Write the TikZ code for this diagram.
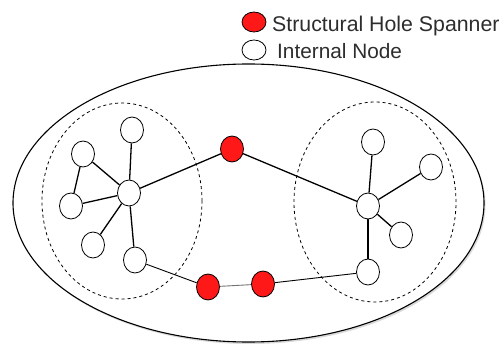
\documentclass[tikz,border=0pt]{standalone}
\usepackage{fontspec}
\setmainfont{Liberation Sans}
\usetikzlibrary{shapes.geometric}
\definecolor{spanred}{RGB}{255,24,24}
\definecolor{labelgray}{RGB}{45,45,45}
\begin{document}
\begin{tikzpicture}[x=1pt,y=-1pt,
  nodo/.style={ellipse, draw, thick, fill=white, minimum width=23pt, minimum height=26pt, inner sep=0pt},
  puente/.style={nodo, fill=spanred},
  leyenda/.style={ellipse, draw, thick, minimum width=24pt, minimum height=20pt, inner sep=0pt},
  texto/.style={anchor=base west, inner sep=0pt, text=labelgray, font=\fontsize{20.8}{24}\selectfont},
  enlace/.style={line width=1.3pt},
  fino/.style={line width=0.9pt}]
  \useasboundingbox (0,0) rectangle (500,347);
  % Leyenda
  \node[leyenda, fill=spanred] (lspan) at (254,22) {};
  \node[texto, font=\fontsize{21.3}{24}\selectfont] (tspan) at (272,32) {Structural Hole Spanner};
  \node[leyenda, fill=white] (lint) at (254,50) {};
  \node[texto] (tint) at (277,59) {Internal Node};
  % Red completa
  \fill[black!15] (250,205) ellipse [x radius=235.5pt, y radius=139pt];
  \draw[fill=white, line width=1.1pt] (248.5,203) ellipse [x radius=235.5pt, y radius=139pt];
  % Comunidades
  \draw[dashed, line width=0.8pt] (122,201) ellipse [x radius=80pt, y radius=98pt];
  \draw[dashed, line width=0.8pt] (375,202) ellipse [x radius=81pt, y radius=100pt];
  % Comunidad izquierda
  \node[nodo] (ac) at (129,193) {};
  \node[nodo] (a1) at (132,130) {};
  \node[nodo] (a2) at (83,154) {};
  \node[nodo] (a3) at (71,206) {};
  \node[nodo] (a4) at (93,245) {};
  \node[nodo] (a5) at (135,260) {};
  % Comunidad derecha
  \node[nodo] (bc) at (368,206) {};
  \node[nodo] (b1) at (373,142) {};
  \node[nodo] (b2) at (431,167) {};
  \node[nodo] (b3) at (401,235) {};
  \node[nodo] (b4) at (368,272) {};
  % Puentes
  \node[puente] (s1) at (232,149) {};
  \node[puente] (s2) at (208,287) {};
  \node[puente] (s3) at (263,284) {};
  % Enlaces
  \foreach \v in {a1,a2,a3,a4,a5} \draw[enlace] (ac) -- (\v);
  \draw[enlace] (a2) -- (a3);
  \foreach \v in {b1,b2,b3,b4} \draw[enlace] (bc) -- (\v);
  \draw[enlace] (ac) -- (s1);
  \draw[enlace] (s1) -- (bc);
  \draw[fino] (a5) -- (s2);
  \draw[fino, black!55] (s2) -- (s3);
  \draw[fino] (s3) -- (b4);
\end{tikzpicture}
\end{document}
